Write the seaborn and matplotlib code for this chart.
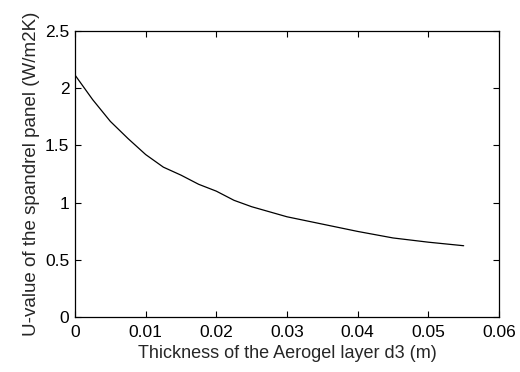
import numpy as np
import pandas as pd
import matplotlib
matplotlib.use("Agg")
import matplotlib.pyplot as plt
import seaborn as sns

# thickness of aerogel layer (m) and U-value
thickness = [0.0, 0.0025, 0.005, 0.0075, 0.01, 0.0125, 0.015, 0.0175, 0.02,
             0.0225, 0.025, 0.03, 0.035, 0.04, 0.045, 0.05, 0.055]
u_value = [2.115, 1.90, 1.71, 1.56, 1.42, 1.31, 1.24, 1.16, 1.10,
           1.02, 0.964, 0.876, 0.812, 0.748, 0.691, 0.654, 0.623]
x_ticks = [0, 0.01, 0.02, 0.03, 0.04, 0.05, 0.06]
x_tick_labels = ["0", "0.01", "0.02", "0.03", "0.04", "0.05", "0.06"]
y_ticks = [0, 0.5, 1, 1.5, 2, 2.5]
y_tick_labels = ["0", "0.5", "1", "1.5", "2", "2.5"]

df = pd.DataFrame({"d3": thickness, "U": u_value})

sns.set_style("ticks")
plt.rcParams["font.family"] = ["Liberation Sans", "DejaVu Sans"]

fig = plt.figure(figsize=(5.2, 3.72), dpi=100)
ax = fig.add_axes([75 / 520, 1 - 317 / 372, (499 - 75) / 520, (317 - 31) / 372])

sns.lineplot(data=df, x="d3", y="U", ax=ax, color="black", linewidth=0.9)

ax.set_xlim(0, 0.06)
ax.set_ylim(0, 2.5)
ax.set_xticks(x_ticks)
ax.set_xticklabels(x_tick_labels)
ax.set_yticks(y_ticks)
ax.set_yticklabels(y_tick_labels)
ax.tick_params(direction="in", length=4, width=0.8, top=True, right=True,
               labelsize=12.5, colors="black")
ax.tick_params(axis="x", pad=6)
ax.tick_params(axis="y", pad=4)
for s in ax.spines.values():
    s.set_visible(True)
    s.set_linewidth(0.9)
    s.set_color("black")

ax.set_xlabel("Thickness of the Aerogel layer d3 (m)", fontsize=13, labelpad=3)
ax.set_ylabel("U-value of the spandrel panel (W/m2K)", fontsize=13.5, labelpad=4)

fig.savefig("out.png", dpi=100)
